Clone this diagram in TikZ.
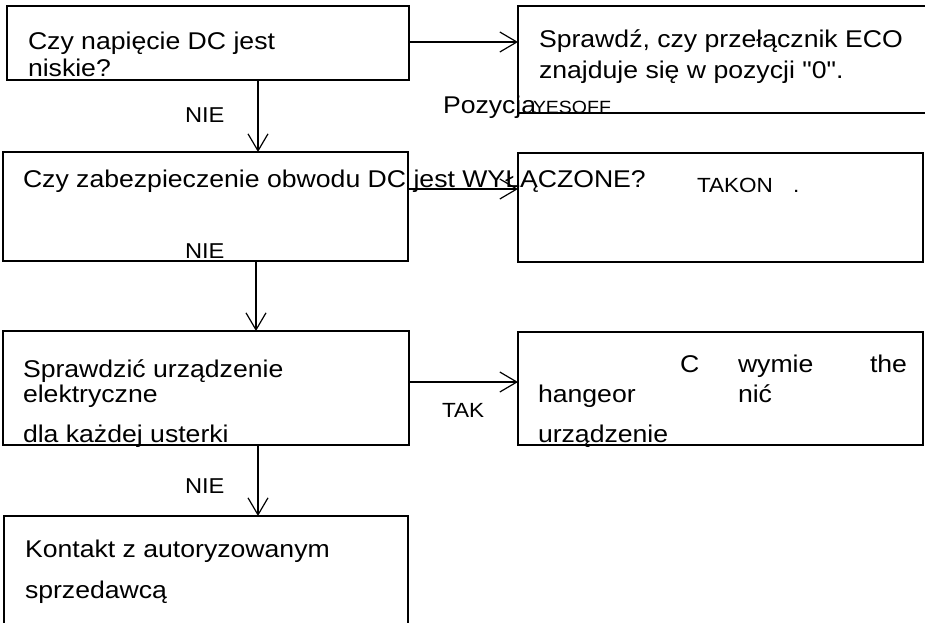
\documentclass[tikz,border=0pt]{standalone}
\usepackage{fontspec}
\setmainfont{Liberation Sans}[FakeStretch=1.1, Ligatures=TeXOff]
\usetikzlibrary{arrows.meta}
\tikzset{
  box/.style={draw, line width=1.2pt, rectangle, outer sep=0pt, inner sep=0pt, anchor=north west},
  arr/.style={line width=1.2pt, -{Straight Barb[length=17pt,width=20pt,line width=1.2pt]}},
  txt/.style={anchor=base west, inner sep=0pt, outer sep=0pt, font=\fontsize{24.2}{24.2}\selectfont},
  lbl/.style={anchor=base west, inner sep=0pt, outer sep=0pt, font=\fontsize{21.5}{21.5}\selectfont},
  sml/.style={anchor=base west, inner sep=0pt, outer sep=0pt, font=\fontsize{20.5}{20.5}\selectfont},
  tiny/.style={anchor=base west, inner sep=0pt, outer sep=0pt, font=\fontsize{17.7}{17.7}\selectfont}
}
\begin{document}
\begin{tikzpicture}[x=1pt,y=-1pt]
\clip (0,0) rectangle (925,622);
\fill[white] (0,0) rectangle (925,622);
% boxes
\node[box, minimum width=402pt, minimum height=74pt] (b1) at (7,6) {};
\node[box, minimum width=405pt, minimum height=109pt] (b2) at (3,152) {};
\node[box, minimum width=406pt, minimum height=114pt] (b3) at (3,331) {};
\node[box, minimum width=404pt, minimum height=140pt] (b4) at (4,516) {};
\node[box, minimum width=440pt, minimum height=107pt] (r1) at (518,6) {};
\node[box, minimum width=405pt, minimum height=109pt] (r2) at (518,153) {};
\node[box, minimum width=405pt, minimum height=113pt] (r3) at (518,332) {};
% connector helpers
\coordinate (ax1) at (258,0);
\coordinate (ax2) at (256,0);
\coordinate (ay1) at (0,42);
\coordinate (ay2) at (0,189);
\coordinate (ay3) at (0,382);
% connectors
\draw[arr] (b1.south -| ax1) -- (b2.north -| ax1);
\draw[arr] (b2.south -| ax2) -- (b3.north -| ax2);
\draw[arr] (b3.south -| ax1) -- (b4.north -| ax1);
\draw[arr] (b1.east |- ay1) -- (r1.west |- ay1);
\draw[arr] (b2.east |- ay2) -- (r2.west |- ay2);
\draw[arr] (b3.east |- ay3) -- (r3.west |- ay3);
% texts
\node[txt] (t1a) at (28,49) {Czy napięcie DC jest};
\node[txt] (t1b) at (28,76) {niskie?};
\node[txt] (t2) at (23,187) {Czy zabezpieczenie obwodu DC jest WYŁĄCZONE?};
\node[txt] (t3a) at (23,377) {Sprawdzić urządzenie};
\node[txt] (t3b) at (23,402) {elektryczne};
\node[txt] (t3c) at (23,442) {dla każdej usterki};
\node[txt] (t4a) at (25,557) {Kontakt z autoryzowanym};
\node[txt] (t4b) at (25,598) {sprzedawcą};
\node[txt] (r1a) at (539,47) {Sprawdź, czy przełącznik ECO};
\node[txt] (r1b) at (539,78) {znajduje się w pozycji "0".};
\node[txt] (poz) at (443,113) {Pozycja};
\node[tiny] (yes) at (533,113) {YESOFF};
\node[sml] (takon) at (697,192) {TAKON};
\node[sml] (dot) at (793,192) {.};
\node[txt] (r3a) at (680,372) {C};
\node[txt] (r3b) at (738,372) {wymie};
\node[txt] (r3c) at (870,372) {the};
\node[txt] (r3d) at (538,402) {hangeor};
\node[txt] (r3e) at (738,402) {nić};
\node[txt] (r3f) at (538,442) {urządzenie};
\node[lbl] (nie1) at (185,122) {NIE};
\node[lbl] (nie2) at (185,258) {NIE};
\node[lbl] (nie3) at (185,493) {NIE};
\node[sml] (tak) at (442,417) {TAK};
\end{tikzpicture}
\end{document}
